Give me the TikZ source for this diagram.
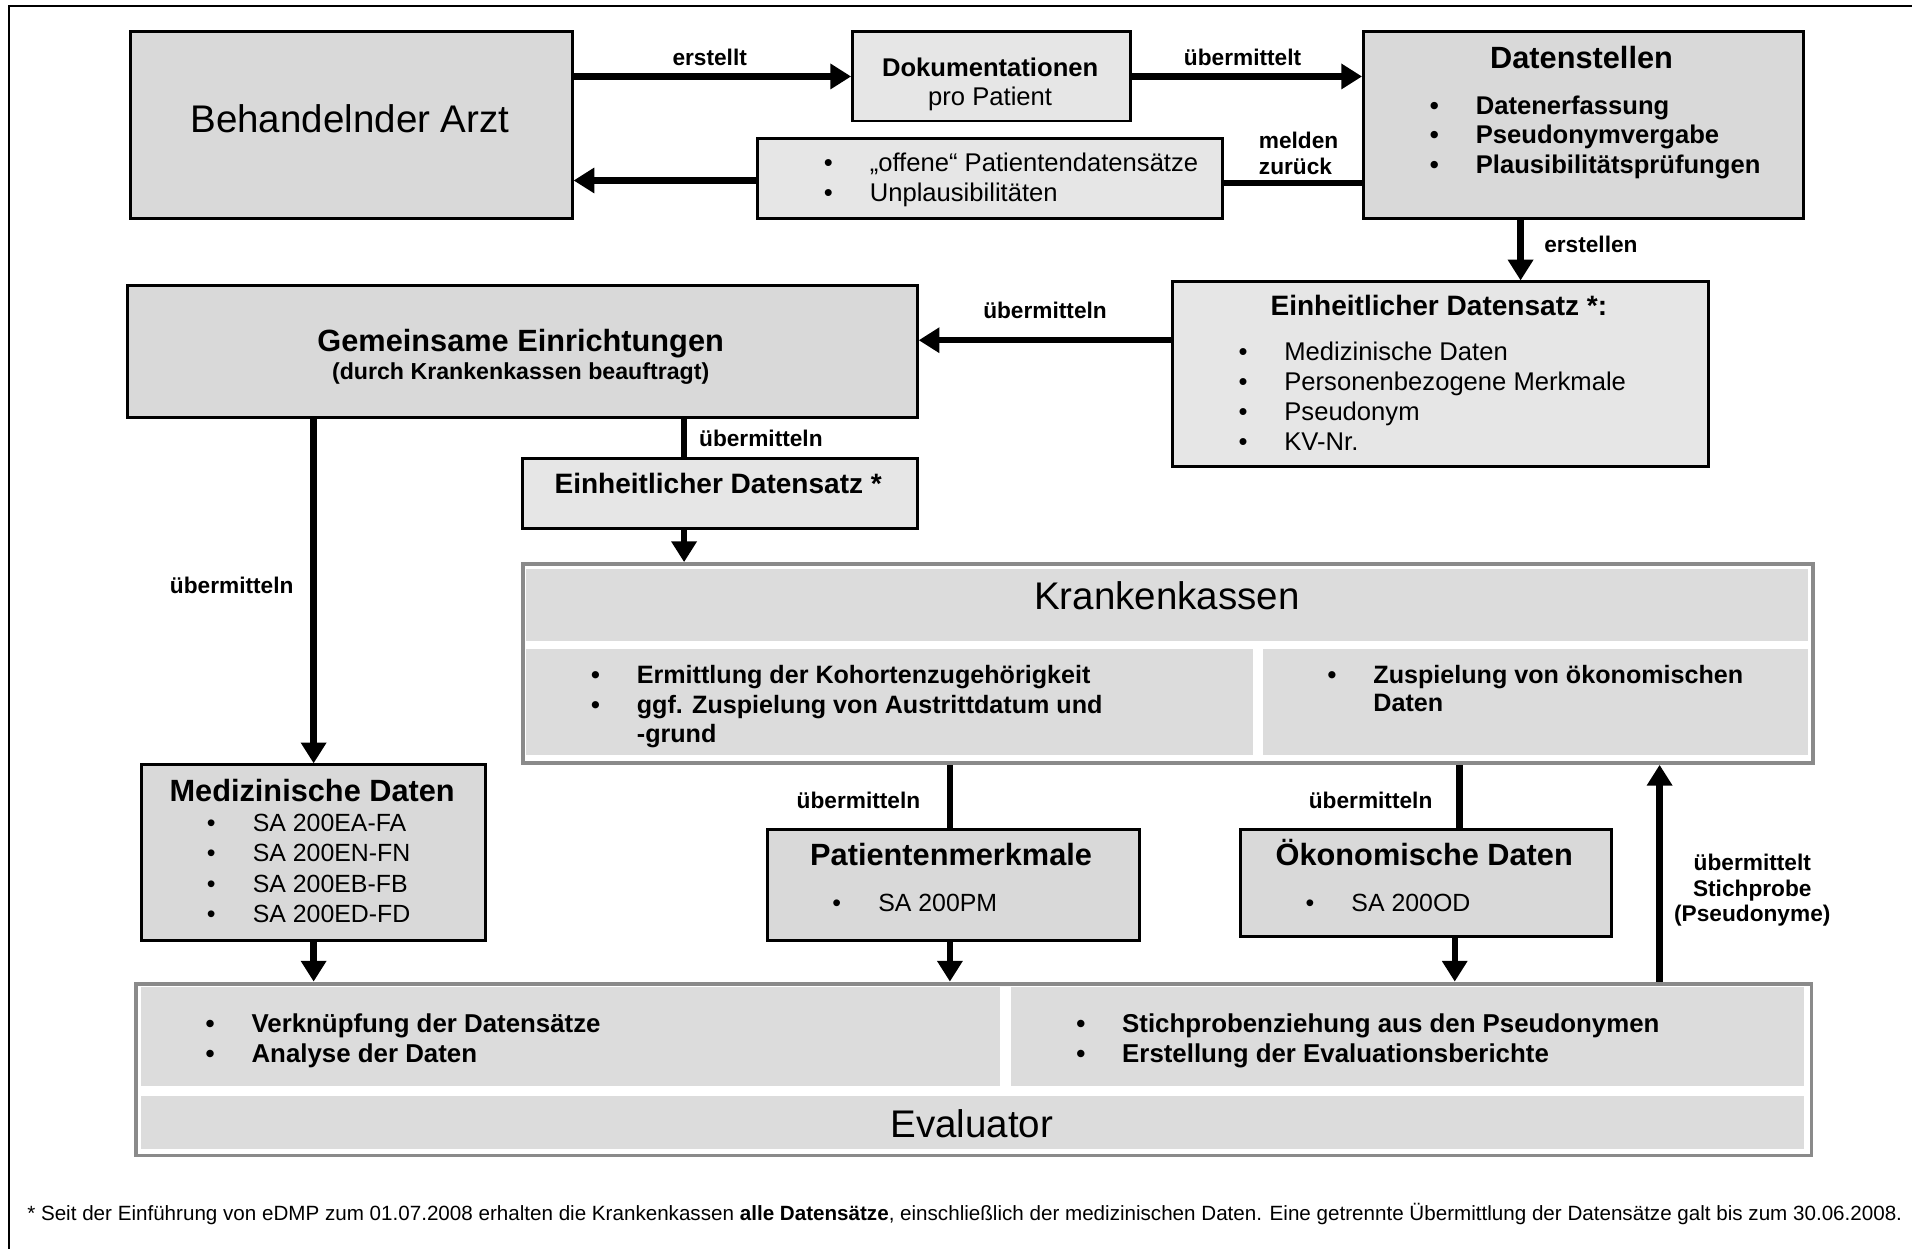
\documentclass[tikz,border=0pt]{standalone}
\usepackage{fontspec}
\setmainfont{Liberation Sans}
\usetikzlibrary{arrows.meta}
\definecolor{boxgray}{HTML}{D9D9D9}
\definecolor{palegray}{HTML}{E6E6E6}
\definecolor{panelgray}{HTML}{DCDCDC}
\definecolor{rimgray}{HTML}{8A8A8A}
\newcommand{\fbig}{\fontsize{15.8}{19}\selectfont}
\newcommand{\ftitle}{\fontsize{12.6}{15}\selectfont\bfseries}
\newcommand{\fsub}{\fontsize{11.5}{14}\selectfont\bfseries}
\newcommand{\flabel}{\fontsize{9.3}{10.5}\selectfont\bfseries}
\newcommand{\ffoot}{\fontsize{8.45}{10}\selectfont}
\newcommand{\bul}{\makebox[18.8pt][l]{\textbullet}}
\newcommand{\nobul}{\hspace*{18.8pt}}
\tikzset{
  darkbox/.style={draw=black, line width=1.2pt, fill=boxgray, anchor=north west, inner sep=0pt},
  palebox/.style={darkbox, fill=palegray},
  rimbox/.style={draw=rimgray, line width=1.6pt, fill=white, anchor=north west, inner sep=0pt},
  panel/.style={fill=panelgray, anchor=north west, inner sep=0pt},
  txt/.style={inner sep=0pt, anchor=base},
  list/.style={inner sep=0pt, anchor=base west},
  lbl/.style={inner sep=0pt, anchor=base, font=\flabel},
  arr/.style={line width=2.6pt, -{Triangle[length=8.5pt,width=10pt]}},
  link/.style={line width=2.6pt}
}
\begin{document}
\begin{tikzpicture}[x=0.5pt, y=-0.5pt]
          \useasboundingbox (0,0) rectangle (1568,1024);
          \draw[line width=0.8pt] (1568,5) -- (7,5) -- (7,1024);

          \node (arzt) at (106,25) [darkbox, minimum width=181pt, minimum height=76.5pt] {};
          \node (doku) at (698,25) [palebox, minimum width=114pt, minimum height=36.5pt] {};
          \node (dstelle) at (1117,25) [darkbox, minimum width=180.5pt, minimum height=76.5pt] {};
          \node (offen) at (620,112) [palebox, minimum width=190.5pt, minimum height=33pt] {};
          \node (gemein) at (103,233) [darkbox, minimum width=324pt, minimum height=54pt] {};
          \node (eds1) at (960,230) [palebox, minimum width=220pt, minimum height=75.5pt] {};
          \node (eds2) at (427,375) [palebox, minimum width=162pt, minimum height=28.5pt] {};
          \node (kk) at (427,461) [rimbox, minimum width=529pt, minimum height=81.5pt] {};
          \node (kkTop) at (431,466) [panel, minimum width=525.5pt, minimum height=29.5pt] {};
          \node (kkLeft) at (431,532) [panel, minimum width=298pt, minimum height=43.5pt] {};
          \node (kkRight) at (1035,532) [panel, minimum width=223.5pt, minimum height=43.5pt] {};
          \node (medi) at (115,626) [darkbox, minimum width=141pt, minimum height=72pt] {};
          \node (patient) at (628,679) [darkbox, minimum width=152.5pt, minimum height=45.5pt] {};
          \node (oekon) at (1016,679) [darkbox, minimum width=152pt, minimum height=44pt] {};
          \node (eval) at (110,805) [rimbox, minimum width=687pt, minimum height=70.5pt] {};
          \node (evLeft) at (115,809) [panel, minimum width=352.5pt, minimum height=40.5pt] {};
          \node (evRight) at (829,809) [panel, minimum width=325pt, minimum height=40.5pt] {};
          \node (evBottom) at (115,898) [panel, minimum width=682pt, minimum height=22pt] {};

          \node (arztT) at (287,109) [txt, font=\fbig] {Behandelnder Arzt};
          \node (dokuA) at (812,62.5) [txt, font=\fontsize{10.5}{12}\selectfont\bfseries] {Dokumentationen};
          \node (dokuB) at (812,86.5) [txt, font=\fontsize{10.5}{12}\selectfont] {pro Patient};
          \node (dstelleT) at (1297,56) [txt, font=\ftitle] {Datenstellen};
          \node (dstelleL) at (1172.3,93.5) [list, font=\fontsize{10.5}{12.25}\selectfont\bfseries]
            {\begin{tabular}[t]{@{}l@{}}\bul Datenerfassung\\ \bul Pseudonymvergabe\\ \bul Plausibilitätsprüfungen\end{tabular}};
          \node (offenL) at (675.3,140.5) [list, font=\fontsize{10.5}{12.5}\selectfont]
            {\begin{tabular}[t]{@{}l@{}}\bul „offene“ Patientendatensätze\\ \bul Unplausibilitäten\end{tabular}};
          \node (gemeinT) at (427,288) [txt, font=\ftitle] {Gemeinsame Einrichtungen};
          \node (gemeinS) at (427,311) [txt, font=\fontsize{9.5}{11}\selectfont\bfseries] {(durch Krankenkassen beauftragt)};
          \node (eds1T) at (1180,259) [txt, font=\fsub] {Einheitlicher Datensatz *:};
          \node (eds1L) at (1015.3,295.5) [list, font=\fontsize{10.5}{12.35}\selectfont]
            {\begin{tabular}[t]{@{}l@{}}\bul Medizinische Daten\\ \bul Personenbezogene Merkmale\\ \bul Pseudonym\\ \bul KV-Nr.\end{tabular}};
          \node (eds2T) at (589,405) [txt, font=\fsub] {Einheitlicher Datensatz *};
          \node (kkT) at (957,500) [txt, font=\fbig] {Krankenkassen};
          \node (kkLeftL) at (484.3,560.5) [list, font=\fontsize{10.3}{12.5}\selectfont\bfseries]
            {\begin{tabular}[t]{@{}l@{}}\bul Ermittlung der Kohortenzugehörigkeit\\ \bul ggf. Zuspielung von Austrittdatum und\\[-1pt] \nobul -grund\end{tabular}};
          \node (kkRightL) at (1088.3,560.5) [list, font=\fontsize{10.3}{12.5}\selectfont\bfseries]
            {\begin{tabular}[t]{@{}l@{}}\bul Zuspielung von ökonomischen\\[-1pt] \nobul Daten\end{tabular}};
          \node (mediT) at (256,657) [txt, font=\ftitle] {Medizinische Daten};
          \node (mediL) at (169.3,681.5) [list, font=\fontsize{10.2}{12.5}\selectfont]
            {\begin{tabular}[t]{@{}l@{}}\bul SA 200EA-FA\\ \bul SA 200EN-FN\\ \bul SA 200EB-FB\\ \bul SA 200ED-FD\end{tabular}};
          \node (patientT) at (780,710) [txt, font=\ftitle] {Patientenmerkmale};
          \node (patientL) at (682.3,747.5) [list, font=\fontsize{10.2}{12.5}\selectfont] {\bul SA 200PM};
          \node (oekonT) at (1168,710) [txt, font=\ftitle] {Ökonomische Daten};
          \node (oekonL) at (1070.3,747.5) [list, font=\fontsize{10.2}{12.5}\selectfont] {\bul SA 200OD};
          \node (evLeftL) at (168.3,846.5) [list, font=\fontsize{10.6}{12.5}\selectfont\bfseries]
            {\begin{tabular}[t]{@{}l@{}}\bul Verknüpfung der Datensätze\\ \bul Analyse der Daten\end{tabular}};
          \node (evRightL) at (882.3,846.5) [list, font=\fontsize{10.6}{12.5}\selectfont\bfseries]
            {\begin{tabular}[t]{@{}l@{}}\bul Stichprobenziehung aus den Pseudonymen\\ \bul Erstellung der Evaluationsberichte\end{tabular}};
          \node (evBottomT) at (797,933) [txt, font=\fbig] {Evaluator};

          \draw[arr] (arzt.east |- doku.west) -- (doku.west);
          \draw[arr] (doku.east) -- (doku.east -| dstelle.west);
          \draw[link] (dstelle.west |- 0,150) -- (offen.east |- 0,150);
          \draw[arr] (offen.west |- 0,148) -- (arzt.east |- 0,148);
          \draw[arr] (dstelle.south -| 1247,0) -- (eds1.north -| 1247,0);
          \draw[arr] (eds1.west |- 0,279) -- (gemein.east |- 0,279);
          \draw[link] (gemein.south -| 561,0) -- (eds2.north -| 561,0);
          \draw[arr] (eds2.south -| 561,0) -- (kk.north -| 561,0);
          \draw[arr] (gemein.south -| medi.north) -- (medi.north);
          \draw[link] (kk.south -| 779,0) -- (patient.north -| 779,0);
          \draw[link] (kk.south -| 1197,0) -- (oekon.north -| 1197,0);
          \draw[arr] (medi.south) -- (medi.south |- eval.north);
          \draw[arr] (patient.south -| 779,0) -- (eval.north -| 779,0);
          \draw[arr] (oekon.south -| 1193,0) -- (eval.north -| 1193,0);
          \draw[arr] (eval.north -| 1361,0) -- (kk.south -| 1361,0);

          \node (lErstellt) at (582,54) [lbl] {erstellt};
          \node (lUebermittelt) at (1019,54) [lbl] {übermittelt};
          \node (lMelden) at (1032,122) [lbl, anchor=base west] {\begin{tabular}[t]{@{}l@{}}melden\\zurück\end{tabular}};
          \node (lErstellen) at (1266,207) [lbl, anchor=base west] {erstellen};
          \node (lUeb1) at (857,261) [lbl] {übermitteln};
          \node (lUeb2) at (624,366) [lbl] {übermitteln};
          \node (lUeb3) at (190,487) [lbl] {übermitteln};
          \node (lUeb4) at (704,663) [lbl] {übermitteln};
          \node (lUeb5) at (1124,663) [lbl] {übermitteln};
          \node (lStich) at (1437,714) [lbl] {\begin{tabular}[t]{@{}c@{}}übermittelt\\Stichprobe\\(Pseudonyme)\end{tabular}};

          \node (fussnote) at (22,1000.5) [list, font=\ffoot] {* Seit der Einführung von eDMP zum 01.07.2008 erhalten die Krankenkassen \textbf{alle Datensätze}, einschließlich der medizinischen Daten. Eine getrennte Übermittlung der Datensätze galt bis zum 30.06.2008.};
        \end{tikzpicture}
\end{document}
